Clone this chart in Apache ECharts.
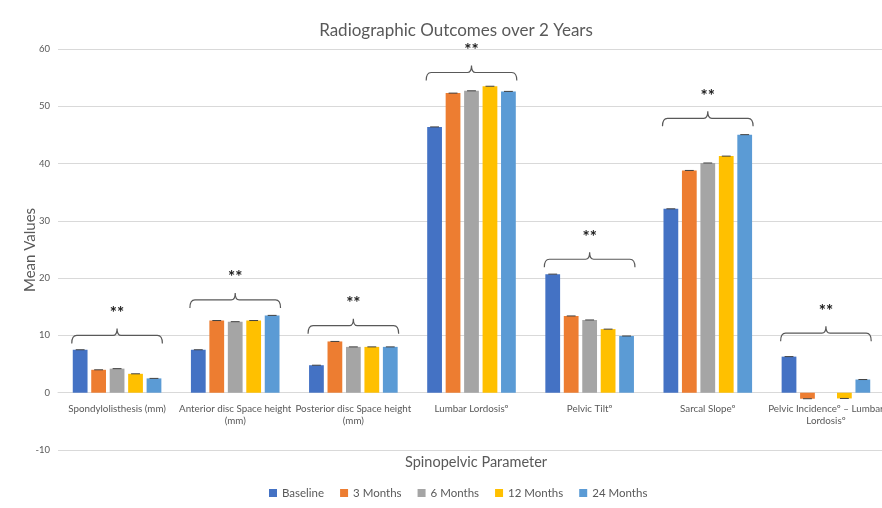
<!DOCTYPE html>
<html>
<head>
<meta charset="utf-8">
<script src="https://cdn.jsdelivr.net/npm/echarts@6/dist/echarts.min.js"></script>
<style>
html,body{margin:0;padding:0;background:#fff;}
#chart{width:882px;height:508px;}
</style>
</head>
<body>
<div id="chart"></div>
<script>
const categories = [
  'Spondylolisthesis (mm)',
  'Anterior disc Space height\n(mm)',
  'Posterior disc Space height\n(mm)',
  'Lumbar Lordosisº',
  'Pelvic Tiltº',
  'Sarcal Slopeº',
  'Pelvic Incidenceº – Lumbar\nLordosisº'
];
const seriesNames = ['Baseline', '3 Months', '6 Months', '12 Months', '24 Months'];
const baseline = [7.5, 7.5, 4.8, 46.4, 20.7, 32.1, 6.3];
const months3 = [4.0, 12.6, 8.95, 52.3, 13.4, 38.8, -1.05];
const months6 = [4.2, 12.4, 8.0, 52.7, 12.7, 40.1, 0];
const months12 = [3.3, 12.6, 8.0, 53.5, 11.1, 41.3, -1.0];
const months24 = [2.5, 13.5, 8.0, 52.6, 9.9, 45.05, 2.3];
const yMin = -10, yMax = 60, yStep = 10;
const bracketLevels = [10.0, 16.2, 11.7, 55.9, 23.3, 47.9, 10.4];
const sigLabels = ['**', '**', '**', '**', '**', '**', '**'];

const colors = ['#4472C4', '#ED7D31', '#A5A5A5', '#FFC000', '#5B9BD5'];
const allSeries = [baseline, months3, months6, months12, months24];
const FONT = 'Lato';
const TXT = '#595959';

const nBars = allSeries.length;
const GAP = 0.25, CATGAP = 0.25;
function barGeom(api, cat) {
  const bw = api.size([1, 0])[0];
  const barW = bw * (1 - CATGAP) / (nBars + (nBars - 1) * GAP);
  const center = api.coord([cat, 0])[0];
  const left = center - (nBars * barW + (nBars - 1) * GAP * barW) / 2;
  return {barW, left};
}

const capData = [];
allSeries.forEach((arr, s) => arr.forEach((v, c) => { if (v !== 0 && v != null) capData.push([c, v, s]); }));
const bracketData = bracketLevels.map((lv, c) => [c, lv, sigLabels[c]]);

const series = allSeries.map((arr, i) => ({
  name: seriesNames[i],
  type: 'bar',
  data: arr,
  barGap: '25%',
  barCategoryGap: '25%',
  itemStyle: {color: colors[i]},
  emphasis: {disabled: true}
}));

series.push({
  type: 'custom',
  silent: true,
  z: 5,
  data: capData,
  renderItem: function (params, api) {
    const c = api.value(0), v = api.value(1), s = api.value(2);
    const g = barGeom(api, c);
    const cx = g.left + s * g.barW * (1 + GAP) + g.barW / 2;
    const y = api.coord([c, v])[1];
    const hw = g.barW * 0.3;
    return {
      type: 'line',
      shape: {x1: cx - hw, y1: y, x2: cx + hw, y2: y},
      style: {stroke: '#404040', lineWidth: 1}
    };
  }
});

series.push({
  type: 'custom',
  silent: true,
  z: 6,
  data: bracketData,
  renderItem: function (params, api) {
    const c = api.value(0), lv = api.value(1);
    const label = bracketData[params.dataIndex][2];
    const g = barGeom(api, c);
    const x0 = g.left - 1;
    const x1 = g.left + nBars * g.barW + (nBars - 1) * GAP * g.barW + 1;
    const xc = (x0 + x1) / 2;
    const y = api.coord([c, lv])[1];
    const d = 'M' + x0 + ' ' + (y + 8) +
      ' Q' + x0 + ' ' + y + ' ' + (x0 + 5) + ' ' + y +
      ' L' + (xc - 4) + ' ' + y +
      ' Q' + xc + ' ' + y + ' ' + xc + ' ' + (y - 7) +
      ' Q' + xc + ' ' + y + ' ' + (xc + 4) + ' ' + y +
      ' L' + (x1 - 5) + ' ' + y +
      ' Q' + x1 + ' ' + y + ' ' + x1 + ' ' + (y + 8);
    return {
      type: 'group',
      children: [
        {type: 'path', shape: {pathData: d}, style: {stroke: '#595959', lineWidth: 1.2, fill: null}},
        {type: 'text', style: {text: label, x: xc, y: y - 22, align: 'center', verticalAlign: 'middle',
          font: 'bold 17px ' + FONT, fill: '#1a1a1a'}}
      ]
    };
  }
});

const chart = echarts.init(document.getElementById('chart'), null, {renderer: 'canvas'});
chart.setOption({
  animation: false,
  color: colors,
  textStyle: {fontFamily: FONT},
  title: {
    text: 'Radiographic Outcomes over 2 Years',
    left: 451, top: 17, textAlign: 'center',
    textStyle: {fontFamily: FONT, fontSize: 17, fontWeight: 'normal', color: TXT}
  },
  legend: {
    data: seriesNames,
    top: 482,
    left: 264,
    icon: 'rect',
    itemWidth: 8,
    itemHeight: 8,
    itemGap: 16,
    textStyle: {fontFamily: FONT, fontSize: 11.5, color: TXT}
  },
  graphic: [{
    type: 'text',
    left: 471 - 66, top: 455,
    style: {text: 'Spinopelvic Parameter', font: '14.5px ' + FONT, fill: TXT}
  }, {
    type: 'text',
    x: 30, y: 250,
    rotation: Math.PI / 2,
    style: {text: 'Mean Values', font: '15px ' + FONT, fill: TXT, align: 'center', verticalAlign: 'middle'}
  }],
  grid: {left: 58, top: 49, width: 827, height: 401, containLabel: false, outerBoundsMode: 'none'},
  xAxis: {
    type: 'category',
    data: categories,
    axisLine: {onZero: true, lineStyle: {color: '#d9d9d9'}},
    axisTick: {show: false},
    axisLabel: {interval: 0, color: TXT, fontFamily: FONT, fontSize: 9.8, margin: -47, lineHeight: 12, hideOverlap: false}
  },
  yAxis: {
    type: 'value',
    min: yMin, max: yMax, interval: yStep,
    axisLine: {show: false},
    axisTick: {show: false},
    axisLabel: {color: TXT, fontFamily: FONT, fontSize: 9.5, margin: 8},
    splitLine: {lineStyle: {color: '#d9d9d9', width: 1}}
  },
  series: series
});
</script>
</body>
</html>
